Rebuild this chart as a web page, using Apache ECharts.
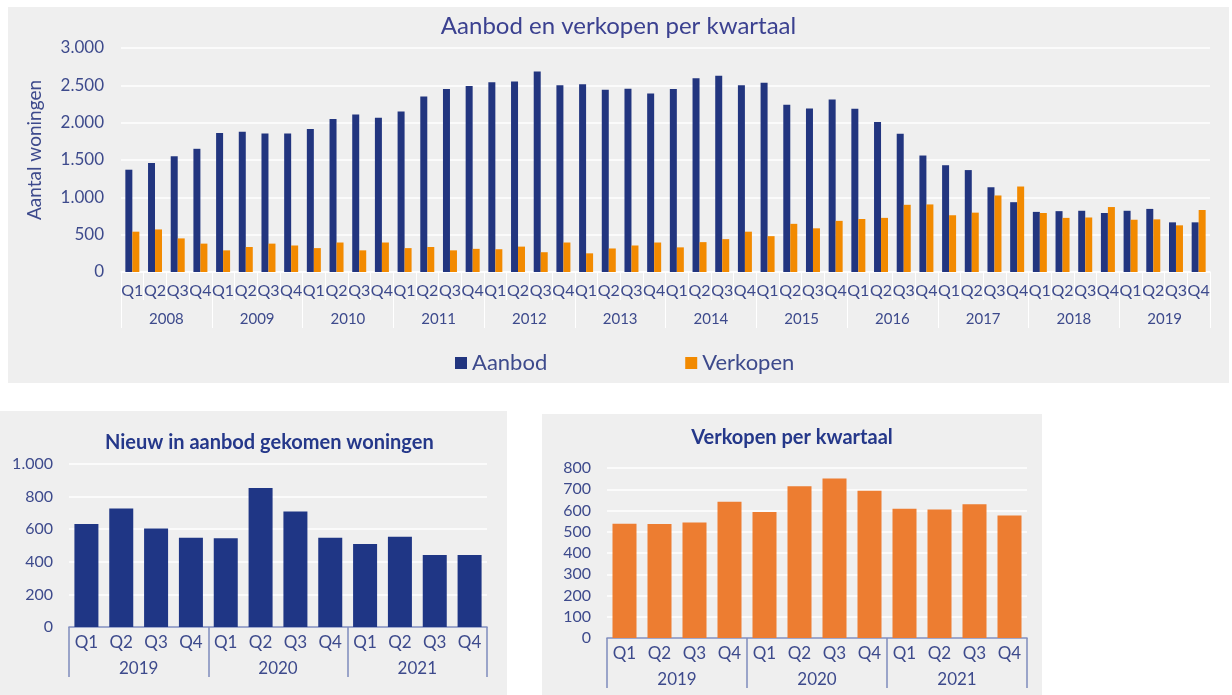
<!DOCTYPE html>
<html>
<head>
<meta charset="utf-8">
<script src="https://cdn.jsdelivr.net/npm/echarts@6/dist/echarts.min.js"></script>
<style>
  body { margin: 0; background: #ffffff; width: 1232px; height: 695px; position: relative; overflow: hidden; }
  .panel { position: absolute; background: #efefef; }
  #top { left: 8px; top: 7px; width: 1221px; height: 376px; }
  #left { left: 0px; top: 411px; width: 507px; height: 284px; }
  #right { left: 542px; top: 414px; width: 500px; height: 281px; }
</style>
</head>
<body>
<div id="top" class="panel"></div>
<div id="left" class="panel"></div>
<div id="right" class="panel"></div>
<script>
// quarters and years
const quarters = ['Q1', 'Q2', 'Q3', 'Q4'];
const topYears = ['2008', '2009', '2010', '2011', '2012', '2013', '2014', '2015', '2016', '2017', '2018', '2019'];
const bottomYears = ['2019', '2020', '2021'];

// top chart: aanbod en verkopen per kwartaal (2008 Q1 .. 2019 Q4)
const aanbod = [
  1370, 1460, 1550, 1650,
  1860, 1880, 1855, 1855,
  1915, 2050, 2110, 2065,
  2150, 2350, 2450, 2490,
  2540, 2550, 2685, 2500,
  2515, 2440, 2455, 2390,
  2450, 2595, 2630, 2500,
  2535, 2240, 2190, 2310,
  2185, 2010, 1850, 1560,
  1430, 1365, 1135, 935,
  805, 815, 820, 790,
  820, 845, 665, 665
];
const verkopen = [
  540, 570, 450, 380,
  290, 335, 380, 355,
  320, 395, 290, 395,
  320, 335, 290, 310,
  305, 340, 265, 395,
  250, 315, 355, 395,
  330, 400, 440, 540,
  480, 645, 585, 685,
  710, 725, 900, 905,
  760, 795, 1025, 1145,
  790, 725, 730, 870,
  700, 705, 625, 830
];

// bottom charts (2019 Q1 .. 2021 Q4)
const nieuwAanbod = [632, 727, 604, 548, 544, 852, 708, 548, 509, 554, 441, 441];
const verkopenKwartaal = [538, 536, 544, 641, 593, 714, 751, 693, 608, 605, 630, 577];

const FONT = 'Lato';
const TXT = '#3d4a8c';
const BLUE = '#22357f';
const ORANGE = '#f28a00';

function dots(v) {
  return String(v).replace(/\B(?=(\d{3})+(?!\d))/g, '.');
}

function quarterLabels(years) {
  const out = [];
  years.forEach(() => quarters.forEach(q => out.push(q)));
  return out;
}

// ---------- top chart ----------
const topChart = echarts.init(document.getElementById('top'));
topChart.setOption({
  animation: false,
  textStyle: { fontFamily: FONT },
  title: {
    text: 'Aanbod en verkopen per kwartaal',
    left: 'center',
    top: 2,
    textStyle: { fontFamily: FONT, fontSize: 24, fontWeight: 'normal', color: '#3b4190' }
  },
  legend: {
    data: ['Aanbod', 'Verkopen'],
    left: 442,
    top: 340,
    icon: 'rect',
    itemWidth: 12,
    itemHeight: 12,
    itemGap: 138,
    textStyle: { fontFamily: FONT, fontSize: 22, color: TXT }
  },
  grid: { left: 113, right: 19, top: 41, bottom: 111 },
  xAxis: [
    {
      type: 'category',
      data: quarterLabels(topYears),
      axisLine: { show: true, lineStyle: { color: '#ffffff', width: 1.5 } },
      axisTick: { show: true, length: 28, lineStyle: { color: '#ffffff' } },
      axisLabel: { interval: 0, margin: 11, fontFamily: FONT, fontSize: 16, color: TXT }
    },
    {
      type: 'category',
      position: 'bottom',
      data: topYears,
      axisLine: { show: false },
      axisTick: { show: true, interval: 0, length: 56, lineStyle: { color: '#ffffff' } },
      axisLabel: { interval: 0, margin: 40, fontFamily: FONT, fontSize: 15, color: TXT }
    }
  ],
  yAxis: {
    type: 'value',
    min: 0,
    max: 3000,
    interval: 500,
    name: 'Aantal woningen',
    nameLocation: 'middle',
    nameGap: 77,
    nameTextStyle: { fontFamily: FONT, fontSize: 19, color: TXT, padding: [0, 0, 0, 20] },
    axisLine: { show: false },
    axisTick: { show: false },
    axisLabel: { margin: 17, fontFamily: FONT, fontSize: 17, color: TXT, formatter: dots },
    splitLine: { lineStyle: { color: '#ffffff', width: 1.5 } }
  },
  series: [
    { name: 'Aanbod', type: 'bar', data: aanbod, barWidth: 7, barGap: '0%', itemStyle: { color: BLUE } },
    { name: 'Verkopen', type: 'bar', data: verkopen, barWidth: 7, barGap: '0%', itemStyle: { color: ORANGE } }
  ]
});

// ---------- bottom charts ----------
function smallChart(id, title, data, color, yMax, yStep, grid, titlePos) {
  const chart = echarts.init(document.getElementById(id));
  chart.setOption({
    animation: false,
    textStyle: { fontFamily: FONT },
    title: {
      text: title,
      left: titlePos.left,
      top: titlePos.top,
      textStyle: { fontFamily: FONT, fontSize: 20, fontWeight: 'bold', color: '#25388a' }
    },
    grid: grid,
    xAxis: [
      {
        type: 'category',
        data: quarterLabels(bottomYears),
        axisLine: { show: false },
        axisTick: { show: false },
        axisLabel: { interval: 0, margin: 7, fontFamily: FONT, fontSize: 17, color: TXT }
      },
      {
        type: 'category',
        position: 'bottom',
        data: bottomYears,
        axisLine: { show: true, onZero: false, lineStyle: { color: '#7f8cbd', width: 1.5 } },
        axisTick: { show: true, interval: 0, length: 50, lineStyle: { color: '#7f8cbd', width: 1.5 } },
        axisLabel: { interval: 0, margin: 33, fontFamily: FONT, fontSize: 17, color: TXT }
      }
    ],
    yAxis: {
      type: 'value',
      min: 0,
      max: yMax,
      interval: yStep,
      axisLine: { show: false },
      axisTick: { show: false },
      axisLabel: { margin: 16, fontFamily: FONT, fontSize: 16, color: TXT, formatter: dots },
      splitLine: { lineStyle: { color: '#ffffff', width: 1.5 } }
    },
    series: [
      { type: 'bar', data: data, barWidth: 24, itemStyle: { color: color } }
    ]
  });
  return chart;
}

smallChart('left', 'Nieuw in aanbod gekomen woningen', nieuwAanbod, '#1f3685', 1000, 200,
  { left: 69, right: 20, top: 53, bottom: 68 }, { left: 100, top: 17 });
smallChart('right', 'Verkopen per kwartaal', verkopenKwartaal, '#ed7d31', 800, 100,
  { left: 65, right: 15, top: 54, bottom: 57 }, { left: 'center', top: 9 });
</script>
</body>
</html>
